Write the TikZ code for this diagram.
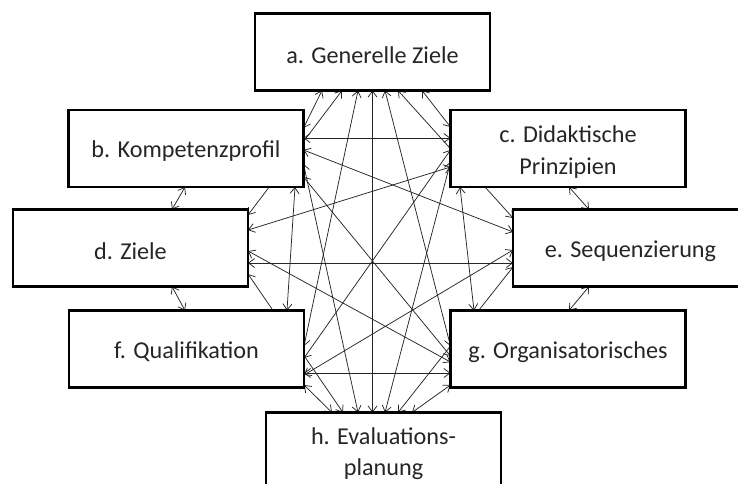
\documentclass[tikz,border=0pt]{standalone}
\usepackage{fontspec}
\setmainfont{Carlito}
\usetikzlibrary{arrows.meta,backgrounds}
\newcommand\lowered[2]{\raisebox{-#1}[\height][\depth]{#2}}
\begin{document}
\begin{tikzpicture}[x=1pt,y=-1pt,
  box/.style={draw=black,line width=2.2pt,fill=white,minimum width=235pt,minimum height=77pt,
    inner sep=0pt,outer sep=0pt,align=center,font=\fontsize{24.2}{30}\selectfont,text=black!85},
  link/.style={<->,>={Straight Barb[length=6pt,width=9pt]},line width=0.75pt,draw=black!85}]
\useasboundingbox (0,0) rectangle (738,483);
\clip (0,0) rectangle (738,483);
\node[box] (a) at (372.5,52) {\lowered{3pt}{a. Generelle Ziele}};
\node[box] (b) at (186,148.5) {\lowered{3pt}{b. Kompetenzprofil}};
\node[box] (c) at (568,148.5) {\lowered{4pt}{\begin{tabular}{@{}c@{}}c. Didaktische\\[1.5pt]Prinzipien\end{tabular}}};
\node[box] (d) at (130.5,248) {\lowered{3pt}{d. Ziele}};
\node[box] (e) at (630.5,248) {\lowered{3pt}{e. Sequenzierung}};
\node[box] (f) at (186.5,349) {\lowered{3pt}{f. Qualifikation}};
\node[box] (g) at (568,349) {\lowered{3pt}{g. Organisatorisches}};
\node[box] (h) at (383.5,451) {\lowered{3pt}{\begin{tabular}{@{}c@{}}h. Evaluations-\\[1.5pt]planung\end{tabular}}};
\begin{scope}[on background layer]
% a
\draw[link] (a.south -| 322,0) -- (b.east |- 0,128);
\draw[link] (a.south -| 422,0) -- (c.west |- 0,127);
\draw[link] (a.south -| 342,0) -- (d.east |- 0,215);
\draw[link] (a.south -| 398,0) -- (e.west |- 0,218);
\draw[link] (a.south -| 358,0) -- (f.east |- 0,346);
\draw[link] (a.south -| 385,0) -- (g.west |- 0,346);
\draw[link] (a.south -| 372.5,0) -- (h.north -| 372.5,0);
% b
\draw[link] (b.east |- 0,138) -- (c.west |- 0,138);
\draw[link] (b.south -| 185,0) -- (d.north -| 172,0);
\draw[link] (b.east |- 0,150) -- (e.west |- 0,232);
\draw[link] (b.south -| 295,0) -- (f.north -| 287,0);
\draw[link] (b.east |- 0,177) -- (g.west |- 0,356);
\draw[link] (b.east |- 0,164) -- (h.north -| 358,0);
% c
\draw[link] (c.west |- 0,167) -- (d.east |- 0,230);
\draw[link] (c.south -| 569,0) -- (e.north -| 589,0);
\draw[link] (c.west |- 0,150) -- (f.east |- 0,358);
\draw[link] (c.south -| 460,0) -- (g.north -| 474,0);
\draw[link] (c.west |- 0,162) -- (h.north -| 385,0);
% d
\draw[link] (d.east |- 0,263) -- (e.west |- 0,263);
\draw[link] (d.south -| 172,0) -- (f.north -| 185,0);
\draw[link] (d.east |- 0,251) -- (g.west |- 0,362);
\draw[link] (d.east |- 0,274) -- (h.north -| 343,0);
% e
\draw[link] (e.west |- 0,250) -- (f.east |- 0,375);
\draw[link] (e.south -| 589,0) -- (g.north -| 569,0);
\draw[link] (e.west |- 0,267) -- (h.north -| 398,0);
% f, g
\draw[link] (f.east |- 0,373) -- (g.west |- 0,373);
\draw[link] (f.east |- 0,385) -- (h.north -| 332,0);
\draw[link] (g.west |- 0,385) -- (h.north -| 412,0);
\end{scope}
\end{tikzpicture}
\end{document}
